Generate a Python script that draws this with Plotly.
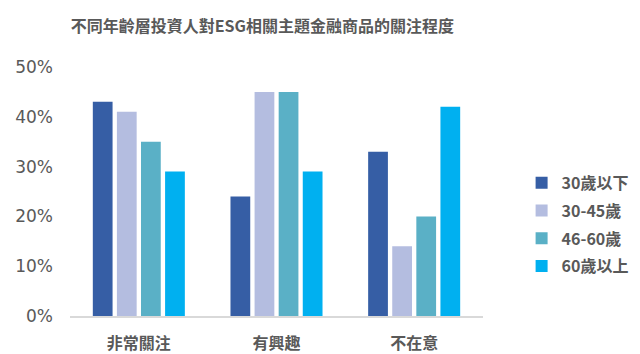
import plotly.graph_objects as go

categories = ["非常關注", "有興趣", "不在意"]
series_names = ["30歲以下", "30-45歲", "46-60歲", "60歲以上"]
under_30 = [0.43, 0.24, 0.33]
age_30_45 = [0.41, 0.45, 0.14]
age_46_60 = [0.35, 0.45, 0.20]
over_60 = [0.29, 0.29, 0.42]
y_ticks = [0, 0.1, 0.2, 0.3, 0.4, 0.5]
y_tick_labels = ["0%", "10%", "20%", "30%", "40%", "50%"]

colors = ["#365EA5", "#B4BDE0", "#5AB0C6", "#00B0F0"]
series_values = [under_30, age_30_45, age_46_60, over_60]

fig = go.Figure()
for i, (name, vals) in enumerate(zip(series_names, series_values)):
    fig.add_trace(go.Bar(
        x=categories, y=vals, name=name,
        marker=dict(color=colors[i], line=dict(width=0)),
        legendgroup=f"g{i}",
    ))

cjk = "Noto Sans CJK TC"
fig.update_layout(
    width=640, height=354,
    margin=dict(l=70, r=157, t=67, b=38),
    paper_bgcolor="white", plot_bgcolor="white",
    barmode="group", bargap=0.3, bargroupgap=0.18,
    title=dict(
        text="<b>不同年齡層投資人對ESG相關主題金融商品的關注程度</b>",
        x=0.41, xanchor="center", y=0.925, yanchor="middle",
        font=dict(family=cjk, size=16, color="#595959"),
        automargin=False,
    ),
    xaxis=dict(
        showline=True, linecolor="#D9D9D9", linewidth=2,
        ticks="", showgrid=False, automargin=False,
        tickfont=dict(family=cjk, size=16, color="#595959", weight="bold"),
        ticklabelstandoff=12,
    ),
    yaxis=dict(
        range=[0, 0.5], tickvals=y_ticks, ticktext=y_tick_labels,
        showgrid=False, zeroline=False, showline=False, ticks="",
        automargin=False,
        tickfont=dict(family="DejaVu Sans", size=17, color="#595959"),
        ticklabelstandoff=16,
    ),
    legend=dict(
        xref="container", yref="container",
        x=0.815, xanchor="left", y=0.365, yanchor="middle",
        traceorder="grouped", tracegroupgap=4,
        font=dict(family=cjk, size=16, color="#595959", weight="bold"),
        itemwidth=30,
    ),
    showlegend=True,
)

fig.write_html("out.html")
